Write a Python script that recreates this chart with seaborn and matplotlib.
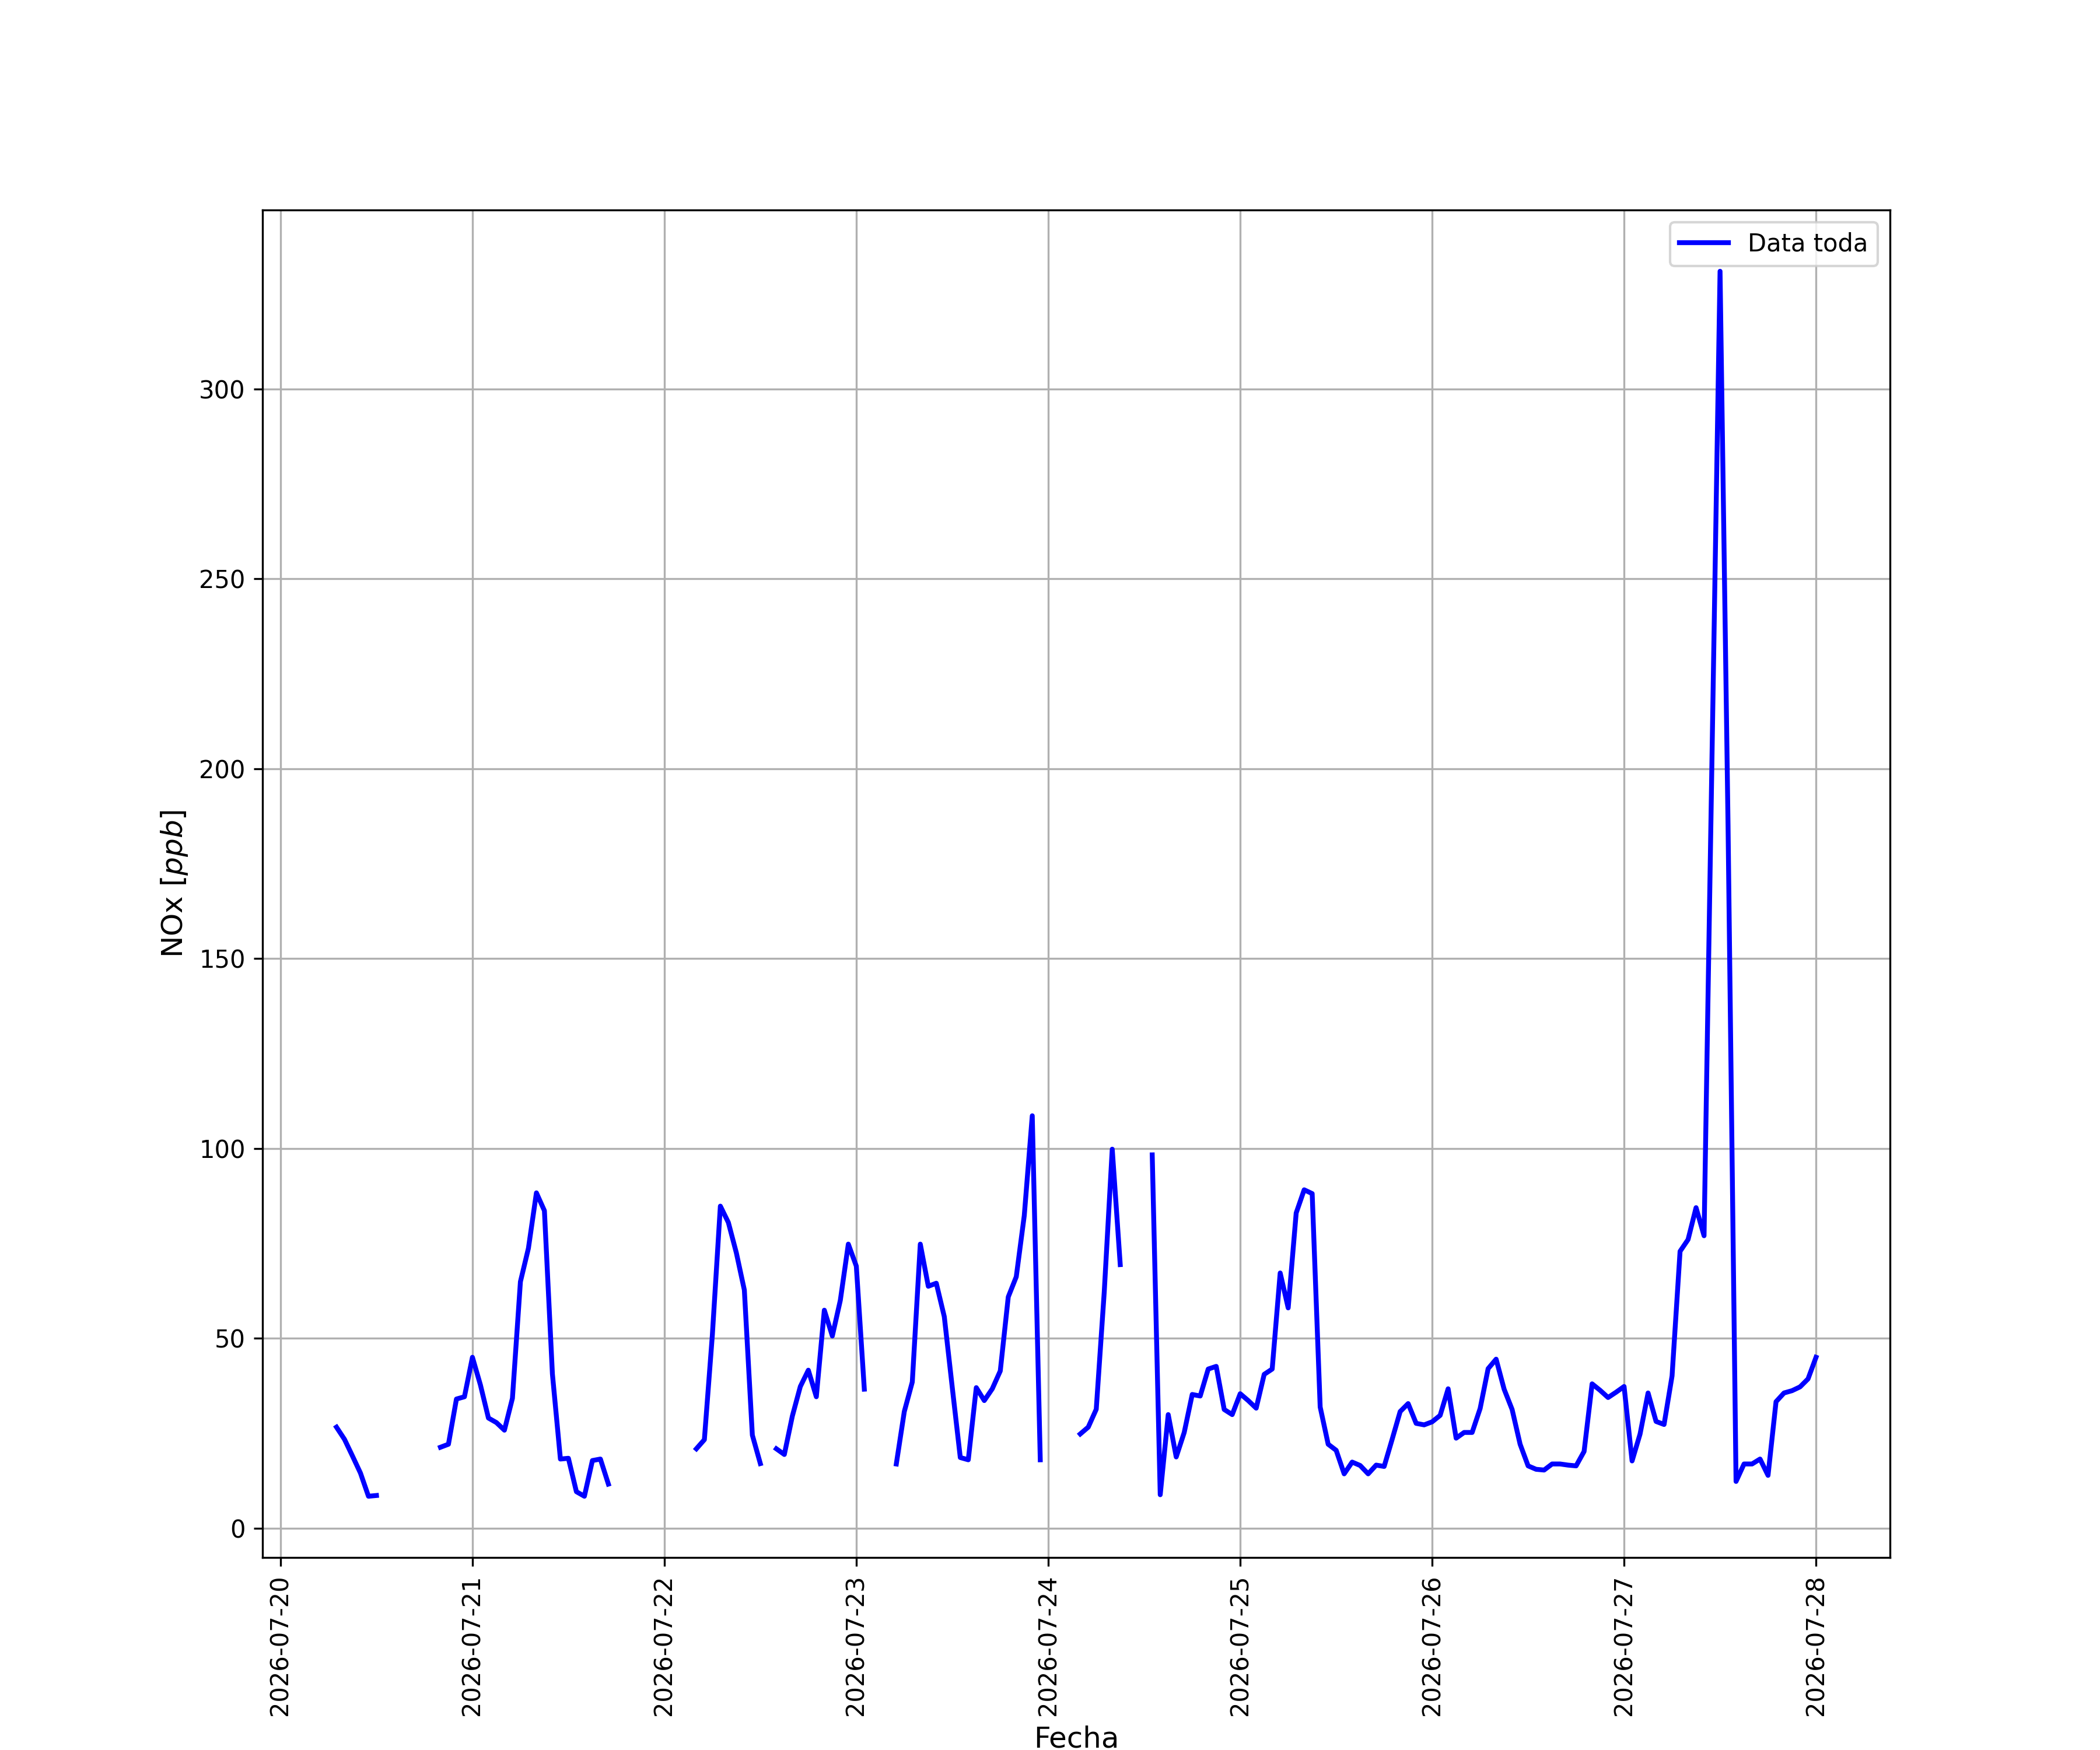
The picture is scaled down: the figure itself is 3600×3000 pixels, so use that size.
import matplotlib
matplotlib.use("Agg")
from matplotlib import pyplot as plt
import matplotlib.dates as mdates
import pandas as pd
import seaborn as sns

# Tramos de medicion continua: hora de inicio y valores horarios de NOx [ppb]
inicio_1 = "2026-07-20 07:00"
nox_1 = [26.6, 23.4, 19.0, 14.5, 8.4, 8.6]

inicio_2 = "2026-07-20 20:00"
nox_2 = [21.3, 22.1, 34.0, 34.6,
         45.0, 37.7, 29.0, 27.8, 25.8, 34.2, 64.9, 73.7, 88.3, 83.6, 40.6,
         18.2, 18.4, 9.6, 8.4, 17.8, 18.2, 11.6]

inicio_3 = "2026-07-22 04:00"
nox_3 = [20.9, 23.3, 50.9, 84.8, 80.5, 72.5, 62.7, 24.5, 17.0]

inicio_4 = "2026-07-22 14:00"
nox_4 = [20.9, 19.4, 29.5, 37.3, 41.6, 34.6, 57.4, 50.6, 60.0, 74.8, 69.0, 36.6]

inicio_5 = "2026-07-23 05:00"
nox_5 = [16.9, 30.7, 38.5, 74.8, 63.7, 64.5, 55.7, 37.0, 18.6, 18.0, 37.0,
         33.6, 36.7, 41.4, 60.9, 66.2, 82.3, 108.6, 18.0]

inicio_6 = "2026-07-24 04:00"
nox_6 = [24.8, 26.6, 31.3, 62.2, 99.8, 69.4]

inicio_7 = "2026-07-24 13:00"
nox_7 = [98.3, 8.8, 29.9, 18.75, 25.2, 35.2, 34.8, 41.9, 42.6, 31.25, 29.9,
         # 07-25
         35.4, 33.6, 31.6, 40.5, 41.9, 67.2, 58.0, 83.0, 89.1, 88.1, 31.9, 22.1,
         20.5, 14.3, 17.4, 16.5, 14.3, 16.6, 16.25, 23.4, 30.7, 32.8, 27.6, 27.2,
         # 07-26
         28.0, 29.7, 36.7, 23.7, 25.2, 25.2, 31.5, 42.0, 44.5, 36.6, 31.25, 22.1,
         16.4, 15.5, 15.3, 16.9, 16.9, 16.6, 16.4, 20.2, 38.0, 36.3, 34.4, 35.8,
         # 07-27
         37.3, 17.7, 24.8, 35.6, 28.1, 27.3, 40.1, 72.9, 76.0, 84.4, 77.0, 204.0,
         331.0, 185.0, 12.3, 16.9, 16.9, 18.2, 13.9, 33.3, 35.6, 36.2, 37.2, 39.3,
         # 07-28
         45.0]

tramos = [(inicio_1, nox_1), (inicio_2, nox_2), (inicio_3, nox_3),
          (inicio_4, nox_4), (inicio_5, nox_5), (inicio_6, nox_6),
          (inicio_7, nox_7)]

frames = []
for i, (ini, vals) in enumerate(tramos):
    frames.append(pd.DataFrame({
        "Fecha": pd.date_range(ini, periods=len(vals), freq="h"),
        "NOx": vals,
        "tramo": i,
    }))
df = pd.concat(frames, ignore_index=True)

fig, ax = plt.subplots(figsize=(12, 10))
sns.lineplot(data=df, x="Fecha", y="NOx", units="tramo", estimator=None,
             color="blue", linewidth=2, ax=ax)

ax.legend([ax.lines[0]], ["Data toda"], loc="upper right")
ax.xaxis.set_major_locator(mdates.DayLocator())
ax.xaxis.set_major_formatter(mdates.DateFormatter("%Y-%m-%d"))
plt.xticks(rotation=90)
ax.grid(True)
ax.set_xlabel("Fecha", fontsize=12)
ax.set_ylabel("NOx [$ppb$]", fontsize=12)

fig.savefig("out.png", dpi=300)
